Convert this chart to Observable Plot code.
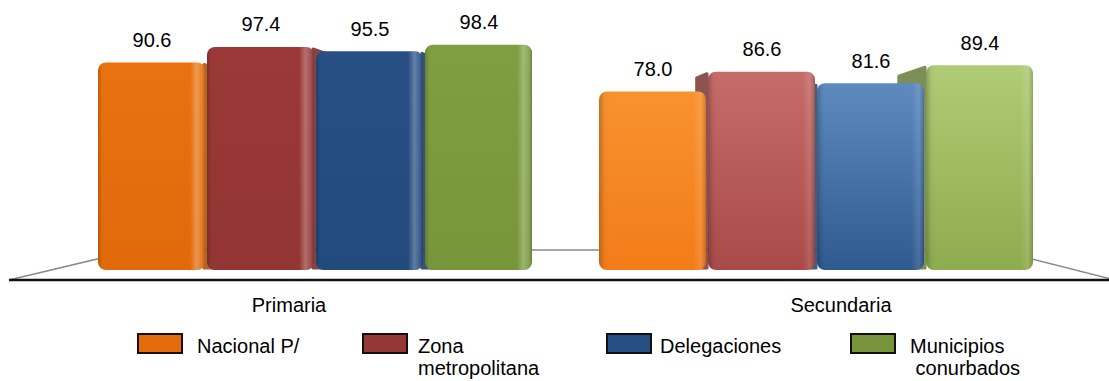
<!DOCTYPE html>
<html><head><meta charset="utf-8">
<script src="https://cdn.jsdelivr.net/npm/d3@7"></script>
<script src="https://cdn.jsdelivr.net/npm/@observablehq/plot@0.6"></script>
<style>
body{margin:0;background:#fff;font-family:"Liberation Sans",Arial,sans-serif;}
#wrap{position:relative;width:1109px;height:381px;overflow:hidden;}
.legend{position:relative;width:1109px;height:59px;}
.sw{position:absolute;width:46px;height:21px;box-sizing:border-box;border:2px solid #111;}
.lt{position:absolute;font-size:20px;line-height:22px;color:#000;white-space:pre;}
</style></head><body><div id="wrap"></div>
<script>
// ---- data ----
const groups = ["Primaria", "Secundaria"];
const series = ["Nacional P/", "Zona metropolitana", "Delegaciones", "Municipios conurbados"];
const primaria = [90.6, 97.4, 95.5, 98.4];
const secundaria = [78.0, 86.6, 81.6, 89.4];
const legendLines = [["Nacional P/"], ["Zona", "metropolitana"], ["Delegaciones"], ["Municipios", " conurbados"]];

// ---- styles ----
const swatchColors = ["#E46C0A", "#953735", "#254E82", "#77933C"];
const barShades = [
  [["#E8720F", "#E06A0A"], ["#9A3937", "#923533"], ["#274F84", "#224A7C"], ["#7E9E41", "#77963B"]],
  [["#F8922F", "#F27C18"], ["#C66C6A", "#A84A48"], ["#5E8AC0", "#2F5A8F"], ["#AFCC76", "#8EAB4E"]]
];

const values = [primaria, secundaria];
const data = groups.flatMap((g, gi) => series.map((s, si) => ({group: g, series: s, value: values[gi][si], gi, si})));

const font = '"Liberation Sans", Arial, sans-serif';
const plot = Plot.plot({
  width: 1109, height: 322,
  marginLeft: 97, marginRight: 74, marginTop: 41, marginBottom: 52,
  fx: {domain: groups, paddingInner: 0.131, paddingOuter: 0, axis: null, label: null},
  x: {domain: series, paddingInner: 0.015, paddingOuter: 0, axis: null, label: null},
  y: {domain: [0, 100], axis: null},
  color: {type: "identity"},
  style: {fontFamily: font, fontSize: "20px", background: "white", color: "#000"},
  marks: [
    Plot.barY(data, {fx: "group", x: "series", y: "value", fill: d => `url(#bar-${d.gi}-${d.si})`, rx: 8}),
    Plot.barY(data, {fx: "group", x: "series", y: "value", fill: d => `url(#hl-${d.gi})`, rx: 8}),
    Plot.text(data, {fx: "group", x: "series", y: "value", text: d => d.value.toFixed(1), lineAnchor: "bottom", dy: -16, fontSize: 20, fill: "#000"}),
    Plot.text([groups[0]], {fx: d => d, text: d => d, frameAnchor: "bottom", lineAnchor: "top", dy: 27, dx: -27, fontSize: 20, fill: "#000"}),
    Plot.text([groups[1]], {fx: d => d, text: d => d, frameAnchor: "bottom", lineAnchor: "top", dy: 27, dx: 24, fontSize: 20, fill: "#000"})
  ]
});

// gradients
const svg = d3.select(plot);
const defs = svg.insert("defs", ":first-child");
barShades.forEach((grp, gi) => grp.forEach(([top, bottom], si) => {
  const lg = defs.append("linearGradient").attr("id", `bar-${gi}-${si}`).attr("x1", 0).attr("y1", 0).attr("x2", 0).attr("y2", 1);
  lg.append("stop").attr("offset", "0%").attr("stop-color", top);
  lg.append("stop").attr("offset", "100%").attr("stop-color", bottom);
}));
const hlStops = [
  [[0, "#000", 0.18], [0.04, "#000", 0], [0.86, "#fff", 0], [0.92, "#fff", 0.28], [0.97, "#fff", 0.12], [1, "#000", 0.15]],
  [[0, "#000", 0.22], [0.05, "#000", 0.03], [0.12, "#fff", 0], [0.88, "#fff", 0], [0.95, "#fff", 0.12], [1, "#000", 0.18]]
];
hlStops.forEach((stops, gi) => {
  const lg = defs.append("linearGradient").attr("id", `hl-${gi}`).attr("x1", 0).attr("y1", 0).attr("x2", 1).attr("y2", 0);
  stops.forEach(([o, c, a]) => lg.append("stop").attr("offset", o).attr("stop-color", c).attr("stop-opacity", a));
});

// floor and 3D side faces (decoration), derived from the plot's scales
const ys = plot.scale("y"), xs = plot.scale("x"), fxs = plot.scale("fx");
const y0 = ys.apply(0);
const [xl, xr] = fxs.range;
const front = y0 + 10, back = y0 - 20;
const firstBar = svg.select('g[aria-label="bar"]').node();
const floor = svg.insert("g", () => firstBar);
floor.append("path")
  .attr("d", `M${xl - 88},${front} L${xl + 38},${back} L${xr - 39},${back} L${xr + 80},${front}`)
  .attr("fill", "white").attr("stroke", "#8a8a8a").attr("stroke-width", 1.6);
floor.append("line").attr("x1", xl - 88).attr("x2", xr + 90).attr("y1", front).attr("y2", front)
  .attr("stroke", "#111").attr("stroke-width", 2.6);

const vanish = (xl + xr) / 2;
const sides = svg.insert("g", () => firstBar);
data.forEach(d => {
  const left = xs.apply(d.series) + (fxs.apply(d.group) - fxs.apply(groups[0]));
  const right = left + xs.bandwidth;
  const top = ys.apply(d.value);
  const edge = left > vanish ? left : right;
  const depth = 0.073 * (edge - vanish);
  if (Math.abs(depth) < 3) return;
  const rise = 0.3 * Math.abs(depth) + 3;
  const col = d3.color(barShades[d.gi][d.si][1]).darker(0.9).formatHex();
  sides.append("path")
    .attr("d", `M${edge},${top + 2} L${edge - depth},${top + rise} L${edge - depth},${y0 - 2} L${edge},${y0 - 2} Z`)
    .attr("fill", col).attr("stroke", col).attr("stroke-width", 3).attr("stroke-linejoin", "round").attr("opacity", 0.85);
});

const wrap = document.getElementById("wrap");
wrap.appendChild(plot);

// legend
const legend = d3.select(wrap).append("div").attr("class", "legend");
const swLeft = [137, 362, 606, 850];
const txLeft = [197, 418, 660, 910];
series.forEach((s, i) => {
  legend.append("div").attr("class", "sw").style("left", swLeft[i] + "px").style("top", "11px").style("background", swatchColors[i]);
  legend.append("div").attr("class", "lt").style("left", txLeft[i] + "px").style("top", "13px").text(legendLines[i].join("\n"));
});
</script>
</body></html>
